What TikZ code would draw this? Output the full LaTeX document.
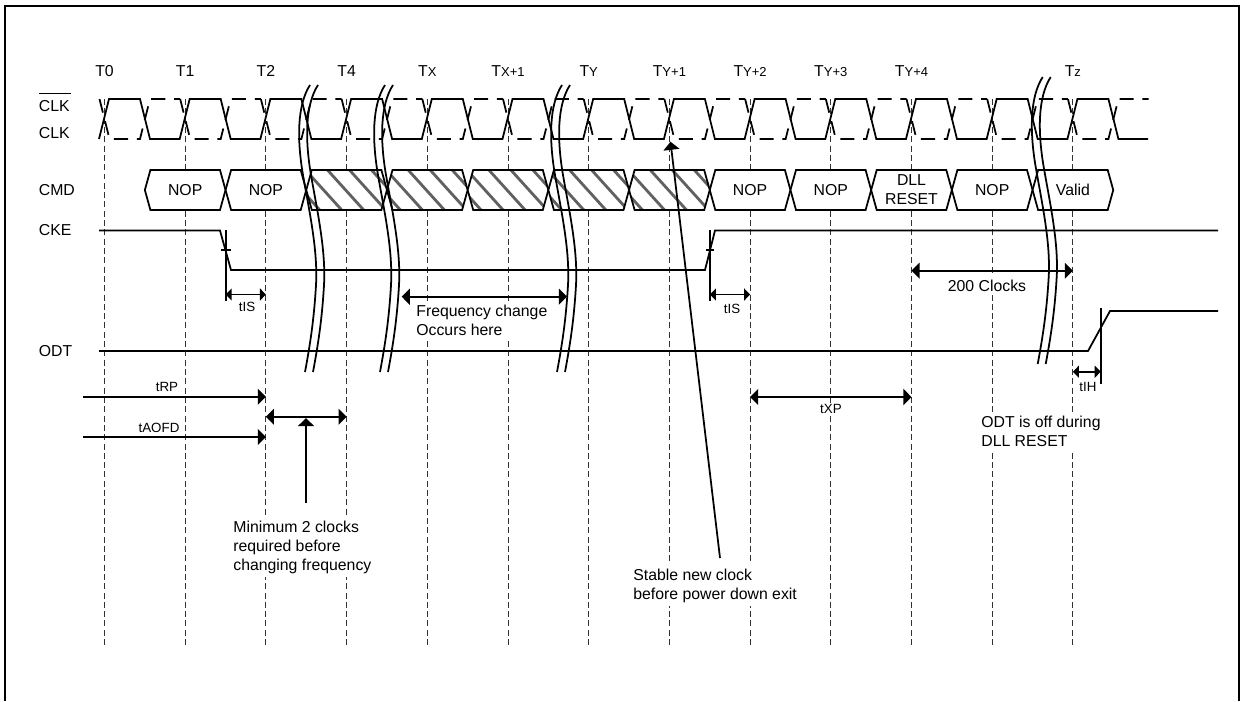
\documentclass[tikz,border=0pt]{standalone}
\usepackage{fontspec}
\setmainfont{Liberation Sans}
\usepackage{tikz}
\usetikzlibrary{arrows.meta, calc, shapes.symbols}
\newcommand{\tsub}[1]{T{\fontsize{7.4}{9}\selectfont #1}}
\tikzset{
  sig/.style={line width=1pt, line join=miter},
  dashsig/.style={sig, dash pattern=on 8pt off 5pt},
  tick/.style={line width=0.55pt, black!80, dash pattern=on 3.4pt off 1.9pt},
  lab/.style={font=\fontsize{9}{10.8}\selectfont, inner sep=0pt},
  slab/.style={font=\fontsize{7.6}{9}\selectfont, inner sep=0pt},
  note/.style={lab, fill=white, align=left, inner sep=2pt},
  bigarrow/.style={line width=1pt, {Triangle[length=4.6pt,width=9pt]}-{Triangle[length=4.6pt,width=9pt]}},
  onearrow/.style={line width=1pt, -{Triangle[length=4.6pt,width=9pt]}},
  tinyarrow/.style={line width=1pt, {Triangle[length=3.4pt,width=6.8pt]}-{Triangle[length=3.4pt,width=6.8pt]}},
  busbox/.style={signal, signal to=west and east, signal pointer angle=149, draw, sig, fill=white,
    minimum width=1.614cm, minimum height=0.8cm, inner sep=0pt, outer sep=0pt,
    align=center, font=\fontsize{9}{10.8}\selectfont},
  hatchbox/.style={busbox, path picture={
    \foreach \d in {-88,-66,...,88}
      \draw[line width=1.6pt, black!62]
        ($(path picture bounding box.center)+(\d-20,-21)$) -- ($(path picture bounding box.center)+(\d+18,21)$);
  }},
  breakmark/.pic={
    \foreach \s in {0,8}
      \draw[sig, xshift=\s*0.02cm] (0,0) .. controls (-13,20) and (-13,55) .. (-7,90)
        .. controls (-1,125) and (8,165) .. (6,200) .. controls (4,235) and (0,260) .. (-5,287);
  },
}
\begin{document}
\begin{tikzpicture}[x=0.02cm, y=-0.02cm]
  \useasboundingbox (0,0) rectangle (1244,701);

  % Frame
  \draw[line width=1.2pt] (5,701) -- (5,6) -- (1239,6) -- (1239,701);

  % Clock edges and their labels
  \foreach \lbl [count=\i from 0] in {T0,T1,T2,T4,\tsub{X},\tsub{X+1},\tsub{Y},\tsub{Y+1},\tsub{Y+2},\tsub{Y+3},\tsub{Y+4},{},\tsub{z}} {
    \coordinate (t\i) at ({104.5+80.7*\i},0);
    \draw[tick] (t\i |- 0,99) -- (t\i |- 0,648);
    \node[lab] (head\i) at (t\i |- 0,70.7) {\lbl};
  }

  % Signal names
  \node[lab, anchor=west] (clkn) at (38.5,106) {\rlap{\smash{\rule[9.7pt]{18.4pt}{0.7pt}}}CLK};
  \node[lab, anchor=west] (clkp) at (38.5,133) {CLK};
  \node[lab, anchor=west] (cmd) at (38.5,190) {CMD};
  \node[lab, anchor=west] (cke) at (38.5,230.5) {CKE};
  \node[lab, anchor=west] (odt) at (38.5,351) {ODT};

  % Notes
  \node[note, anchor=north west, xshift=-2pt] (freq) at (416,301.5) {Frequency change\\Occurs here};
  \node[note, anchor=north west, xshift=-2pt] (mintwo) at (233,517) {Minimum 2 clocks\\required before\\changing frequency};
  \node[note, anchor=north west, xshift=-2pt] (stable) at (633,565) {Stable new clock\\before power down exit};
  \node[note, anchor=north west, xshift=-2pt] (odtoff) at (981,412) {ODT is off during\\DLL RESET};
  \node[note] (twohundred) at (987,285.7) {200 Clocks};
  \node[slab, fill=white, inner sep=1pt] (txp) at (831,409) {tXP};

  % Clocks
  \draw[sig] (99,139) \foreach \k in {0,...,12} {
    -- ({104.5+80.7*\k+4.5},99) -- ({104.5+80.7*\k+35.5},99)
    -- ({104.5+80.7*\k+45.5},139) -- ({104.5+80.7*\k+75.2},139)
  };
  \foreach \k in {0,...,12}
    \draw[dashsig] ({104.5+80.7*\k-5},99) -- ({104.5+80.7*\k+5},139) -- ({104.5+80.7*\k+35.5},139)
      -- ({104.5+80.7*\k+45.5},99) -- ({104.5+80.7*\k+75.7},99);

  % Command bus
  \foreach \i/\txt in {1/NOP,2/NOP,8/NOP,9/NOP,10/{DLL\\RESET},11/NOP,12/Valid}
    \node[busbox] (bus\i) at ({104.5+80.7*\i},190) {\txt};
  \foreach \i in {3,...,7}
    \node[hatchbox] (bus\i) at ({104.5+80.7*\i},190) {};

  % CKE and ODT
  \coordinate (ckedn) at (225.7,250);
  \coordinate (ckeup) at (710,250);
  \coordinate (odtup) at (1100.7,340);
  \draw[sig] (99,230.5) -- (220,230.5) -- (231,270) -- (705,270) -- (715,230.5) -- (1218,230.5);
  \draw[sig] (99,351) -- (1088,351) -- (1110,311) -- (1218,311);
  \draw[sig] (ckedn |- 0,230) -- (ckedn |- 0,300.7);
  \draw[sig] (ckeup |- 0,230) -- (ckeup |- 0,300.7);
  \draw[sig] (odtup |- 0,308) -- (odtup |- 0,384);
  \draw[sig] ([xshift=-5*0.02cm]ckedn) -- ([xshift=5*0.02cm]ckedn);
  \draw[sig] ([xshift=-4*0.02cm]ckeup) -- ([xshift=4*0.02cm]ckeup);

  % Breaks
  \pic at (310,85) {breakmark};
  \pic at (385,85) {breakmark};
  \pic at (562,85) {breakmark};
  \pic at (1042.7,77) {breakmark};

  % Timing arrows
  \coordinate (rpstart) at (83.3,396.7);
  \coordinate (aofdstart) at (83.3,437);
  \coordinate (freqstart) at (401.7,296.7);
  \coordinate (freqend) at (567,296.7);
  \draw[tinyarrow] (ckedn |- 0,294.5) -- (t2 |- 0,294.5);
  \draw[tinyarrow] (ckeup |- 0,294.5) -- (t8 |- 0,294.5);
  \draw[tinyarrow] (t12 |- 0,371.7) -- (odtup |- 0,371.7);
  \draw[bigarrow] (freqstart) -- (freqend);
  \draw[bigarrow] (t10 |- 0,270.7) -- (t12 |- 0,270.7);
  \draw[bigarrow] (t8 |- 0,397) -- (t10 |- 0,397);
  \draw[bigarrow] (t2 |- 0,416.7) -- (t3 |- 0,416.7);
  \draw[onearrow] (rpstart) -- (t2 |- rpstart);
  \draw[onearrow] (aofdstart) -- (t2 |- aofdstart);

  % Pointers to the notes
  \coordinate (minfoot) at (306,503);
  \coordinate (minhead) at (306,418);
  \coordinate (stablefoot) at (720,558);
  \coordinate (stablehead) at (670.5,141.7);
  \draw[onearrow] (minfoot) -- (minhead);
  \draw[onearrow] (stablefoot) -- (stablehead);

  % Timing labels
  \node[slab] (tis1) at (247,307) {tIS};
  \node[slab] (tis2) at (732,309) {tIS};
  \node[slab] (tih) at (1088,387) {tIH};
  \node[slab] (trp) at (167,386.7) {tRP};
  \node[slab] (taofd) at (159,428) {tAOFD};

\end{tikzpicture}
\end{document}
